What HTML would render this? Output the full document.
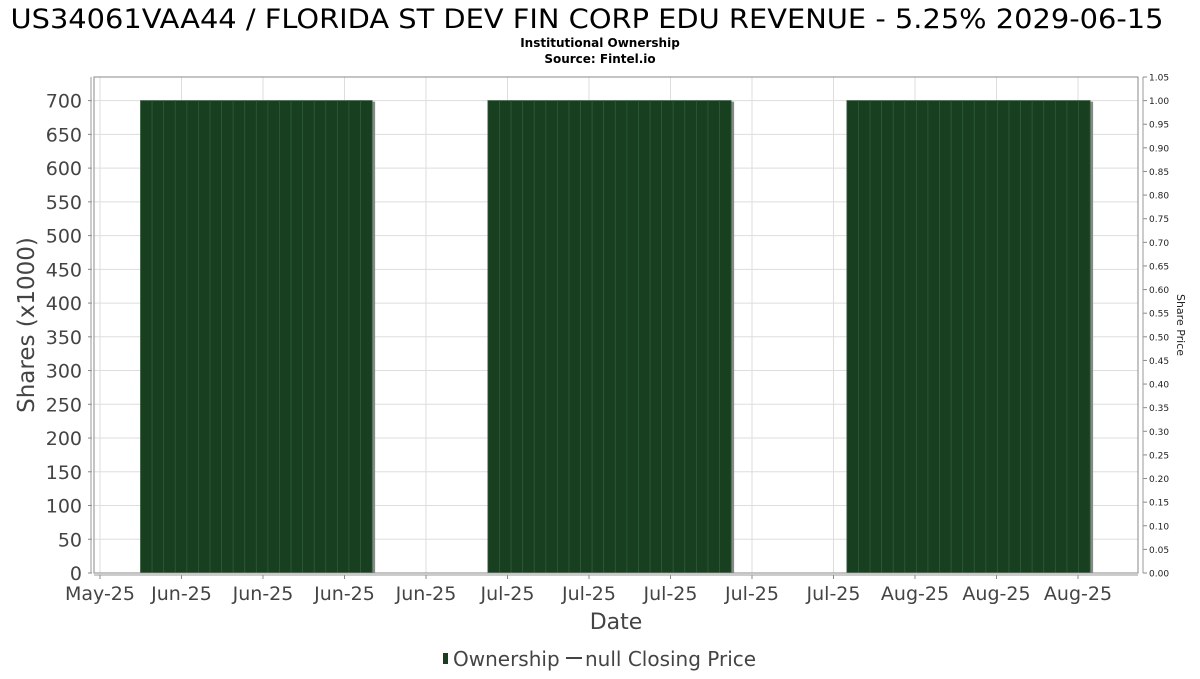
<!DOCTYPE html>
<html><head><meta charset="utf-8"><style>
body{margin:0;background:#fff;font-family:"DejaVu Sans","Liberation Sans",sans-serif}
</style></head><body>
<svg id="c" width="1200" height="675" xmlns="http://www.w3.org/2000/svg">
<text x="587" y="28" text-anchor="middle" font-size="27" textLength="1153" lengthAdjust="spacingAndGlyphs" fill="#000">US34061VAA44 / FLORIDA ST DEV FIN CORP EDU REVENUE - 5.25% 2029-06-15</text>
<text x="600" y="47" text-anchor="middle" font-size="12" font-weight="bold">Institutional Ownership</text>
<text x="600" y="63" text-anchor="middle" font-size="12" font-weight="bold">Source: Fintel.io</text>
<g id="grid"></g><g id="bars"></g><g id="axes"></g>
<text transform="translate(34,325) rotate(-90)" text-anchor="middle" font-size="23" fill="#444">Shares (x1000)</text>
<text transform="translate(1177,325) rotate(90)" text-anchor="middle" font-size="11" fill="#222">Share Price</text>
<text x="616" y="629" text-anchor="middle" font-size="22" fill="#444">Date</text>
<g>
<rect x="443" y="653" width="5" height="11" fill="#173f20"/>
<text x="453" y="666" font-size="20" fill="#444">Ownership</text>
<line x1="566" y1="658" x2="582" y2="658" stroke="#444" stroke-width="2"/>
<text x="585" y="666" font-size="20" fill="#444">null Closing Price</text>
</g>
</svg>
<script>
const xTickLabels=["May-25","Jun-25","Jun-25","Jun-25","Jun-25","Jul-25","Jul-25","Jul-25","Jul-25","Jul-25","Aug-25","Aug-25","Aug-25"];
const barDays=[4,5,6,7,8,9,10,11,12,13,14,15,16,17,18,19,20,21,22,23,
34,35,36,37,38,39,40,41,42,43,44,45,46,47,48,49,50,51,52,53,54,
65,66,67,68,69,70,71,72,73,74,75,76,77,78,79,80,81,82,83,84,85];
const barValues=barDays.map(()=>700);
const yTicks=[0,50,100,150,200,250,300,350,400,450,500,550,600,650,700];
const y2Ticks=[0,0.05,0.1,0.15,0.2,0.25,0.3,0.35,0.4,0.45,0.5,0.55,0.6,0.65,0.7,0.75,0.8,0.85,0.9,0.95,1.0,1.05];
const NS="http://www.w3.org/2000/svg";
const L=94,R=1138,T=77,B=573;
const y=v=>B-(v/735)*(B-T);
const y2=v=>B-(v/1.05)*(B-T);
const tickW=81.5;
const dayW=11.58;
const xt=i=>100+i*tickW;
const x=d=>100+d*dayW;
function mk(tag,attrs,parent,txt){const e=document.createElementNS(NS,tag);for(const k in attrs)e.setAttribute(k,attrs[k]);if(txt!==undefined)e.textContent=txt;document.getElementById(parent).appendChild(e);return e;}
yTicks.forEach(v=>{
 const g=mk('line',{x1:L,x2:R,y1:y(v),y2:y(v),stroke:'#ddd'},'grid');
 
 
 const t=mk('text',{x:82,y:y(v)+7,'text-anchor':'end','font-size':19,fill:'#444'},'axes',v);
 
 
 mk('line',{x1:88,x2:92,y1:y(v),y2:y(v),stroke:'#888'},'axes');
});
xTickLabels.forEach((s,i)=>{
 const xx=xt(i);
 const g=mk('line',{x1:xx,x2:xx,y1:T,y2:B,stroke:'#ddd'},'grid');
 
 
 mk('line',{x1:xx,x2:xx,y1:B+2,y2:B+6,stroke:'#888'},'axes');
 const t=mk('text',{x:xx,y:600,'text-anchor':'middle','font-size':19,fill:'#444'},'axes',s);
 
 
});
y2Ticks.forEach(v=>{
 mk('line',{x1:1143,x2:1147,y1:y2(v),y2:y2(v),stroke:'#888'},'axes');
 const t=mk('text',{x:1149,y:y2(v)+3.5,'font-size':9,fill:'#222'},'axes',v.toFixed(2));
 
 
});
barDays.forEach((d,i)=>{
 const x0=x(d-0.5),w=dayW;
 if(!barDays.includes(d+1)){
  const s=mk('rect',{x:x0+w-1,y:y(barValues[i])+1,width:4,height:B-y(barValues[i])-1,fill:'#888'},'bars');
  
  
 }
 const r=mk('rect',{x:x0,y:y(barValues[i]),width:w,height:B-y(barValues[i]),fill:'#173f20',stroke:'#2f5a38','stroke-width':0.8},'bars');
 
 
});
const fr=mk('rect',{x:L,y:T,width:R-L,height:B-T,fill:'none',stroke:'#888'},'axes');


mk('line',{x1:91,x2:91,y1:T,y2:B,stroke:'#999'},'axes');
mk('line',{x1:L,x2:R,y1:B+2,y2:B+2,stroke:'#999'},'axes');
mk('line',{x1:1143,x2:1143,y1:T,y2:B,stroke:'#999'},'axes');
</script>
</body></html>
